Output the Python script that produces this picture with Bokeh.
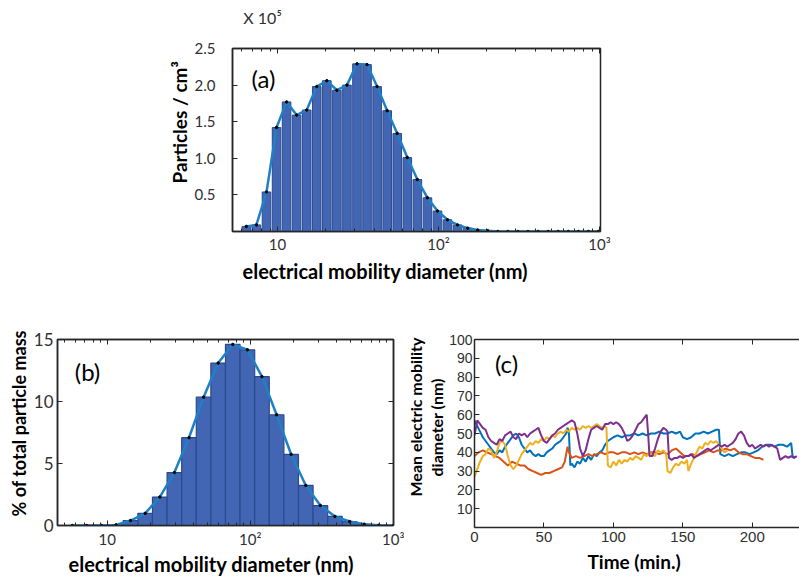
from bokeh.plotting import figure
from bokeh.layouts import column, row
from bokeh.models import (Title, Label, LinearAxis, LogAxis, FixedTicker, Range1d,
                          PrintfTickFormatter, CustomJSTickFormatter)
from bokeh.embed import file_html
from bokeh.resources import INLINE

# ---------------- data ----------------
# (a) number size distribution (x 10^5 particles / cm3)
diam_a = [6.40, 7.39, 8.54, 9.86, 11.38, 13.14, 15.18, 17.52, 20.24, 23.37,
          26.99, 31.16, 35.98, 41.56, 47.99, 55.42, 64.0, 73.9, 85.4, 98.6,
          113.8, 131.4, 151.8, 175.3, 202.4, 233.7, 269.9, 311.6, 359.8, 415.6,
          479.9, 554.2, 640.0, 739.1, 853.5, 985.6]
conc_a = [0.07, 0.09, 0.54, 1.42, 1.77, 1.59, 1.66, 1.98, 2.06, 1.93,
          2.00, 2.29, 2.28, 1.98, 1.65, 1.34, 1.01, 0.71, 0.46, 0.28,
          0.16, 0.09, 0.045, 0.02, 0.01, 0, 0, 0, 0, 0,
          0, 0, 0, 0, 0, 0]

# (b) mass distribution (% of total particle mass)
diam_b = [5.70, 7.20, 9.11, 11.52, 14.57, 18.43, 23.31, 29.48, 37.28, 47.15,
          59.6, 75.4, 95.4, 120.6, 152.6, 192.9, 244.0, 308.6, 390.0, 493.6,
          624.0, 789.0, 998.0]
mass_b = [0, 0, 0, 0.05, 0.40, 0.98, 2.29, 4.27, 7.08, 10.35,
          13.1, 14.6, 14.17, 12.0, 8.93, 5.73, 3.23, 1.61, 0.73, 0.32,
          0.10, 0.02, 0]

# ticks / fixed texts
xt_vals = [10, 100, 1000]
xt_labels = ["10", "10²", "10³"]
mult_pos = 8.07            # diameter above which the multiplier text sits
mult_text = "X 10⁵"
yt_a = [0.5, 1.0, 1.5, 2.0, 2.5]
yt_b = [0, 5, 10, 15]
xt_c = [0, 50, 100, 150, 200]
yt_c = [10, 20, 30, 40, 50, 60, 70, 80, 90, 100]

# (c) mean electric mobility diameter vs time, four runs
t_blue = [0, 2, 4, 6, 8, 10, 12, 14, 16, 18,
          20, 22, 24, 26, 28, 30, 32, 34, 36, 38,
          40, 42, 44, 46, 48, 50, 52, 54, 56, 58,
          60, 62, 64, 66,
          67, 68, 69, 70,
          72, 74, 76, 78, 80, 82, 84, 86, 88, 90, 92, 94, 96, 98, 100,
          103, 106, 109, 112, 115, 118, 121, 124, 127, 130, 133, 136, 139, 142, 145, 148,
          150,
          153, 156, 159, 162, 165, 168, 171, 174,
          176, 177,
          180, 183, 186, 189, 192, 195, 198, 201, 204, 207, 210, 213, 216, 219, 222, 225, 228,
          229, 231]
d_blue = [57, 54, 51, 48, 46, 44, 42, 40, 39, 41,
          40, 43, 45, 47, 49, 50, 48, 44, 42, 40,
          41, 39, 38, 39, 38, 38, 40, 41, 42, 44,
          45, 46, 48, 50,
          53, 50, 33, 34,
          32, 35, 34, 37, 35, 38, 36, 39, 38, 40, 41, 44, 46, 47, 48,
          49, 48, 49, 49, 50, 49, 50, 49, 50, 50, 51, 50, 50, 51, 50, 51,
          48,
          47, 48, 50, 50, 51, 50, 51, 52,
          52, 39,
          38, 39, 38, 39, 40, 40, 39, 40, 41, 43, 44, 44, 43, 44, 44, 43, 45,
          38, 37]

t_orng = [0, 3, 6, 9, 12, 15, 18, 21, 24, 27,
          30, 33, 36, 39, 42, 45, 48, 51, 54, 57,
          60, 63,
          65, 66, 67, 68,
          70,
          73, 76, 79, 82, 85, 88, 91, 94, 97, 100,
          103, 106, 109, 112, 115, 118, 121, 124, 127, 130,
          133, 136, 139, 142, 145, 148, 151, 154, 157, 160,
          163, 166, 169, 172, 175, 178, 181, 184, 187, 190,
          193, 196, 199, 202, 205, 208]
d_orng = [38, 40, 41, 40, 39, 38, 37, 35, 33, 35,
          34, 33, 33, 31, 30, 29, 28, 29, 29, 30,
          31, 32,
          35, 39, 43, 40,
          37,
          38, 37, 38, 39, 38, 39, 40, 39, 40, 40,
          39, 40, 40, 39, 40, 39, 40, 39, 40, 40,
          39, 40, 39, 41, 42, 40, 38, 38, 39, 38,
          39, 40, 41, 40, 41, 41, 42, 41, 42, 40,
          39, 39, 38, 37, 37, 36]

t_yell = [0, 2, 4, 6, 8, 10, 12, 14, 16, 18,
          20, 22, 24, 26, 28, 30, 32, 34, 36, 38,
          40, 42, 44, 46, 48, 50, 52, 54, 56, 58,
          60, 62, 64, 66, 68, 70, 72, 74, 76, 78,
          80, 82, 84, 86, 88, 90, 92, 94,
          95, 96,
          98, 100, 102, 104, 106, 108, 110, 112, 114, 116,
          118, 120, 122, 124, 126, 128, 130, 132, 134, 136, 138,
          139,
          141, 143, 145, 147, 149, 151, 153,
          154,
          156, 158, 160, 162, 164, 166, 168, 170, 172, 174, 176, 178, 180, 182]
d_yell = [27, 31, 35, 38, 39, 42, 41, 37, 40, 45,
          46, 44, 38, 33, 31, 33, 36, 39, 41, 43,
          45, 44, 46, 45, 47, 46, 48, 47, 49, 48,
          50, 51, 50, 52, 51, 53, 52, 53, 52, 54,
          53, 54, 53, 54, 55, 54, 53, 54,
          53, 33,
          32, 35, 33, 36, 34, 36, 35, 37, 36, 38,
          37, 36, 39, 38, 40, 39, 38, 41, 40, 41, 39,
          30,
          29, 32, 34, 33, 35, 34, 36,
          30,
          34, 37, 40, 43, 42, 45, 44, 46, 45, 46, 44, 42, 40, 41]

t_purp = [0, 2, 4, 6, 8, 10, 12, 14, 16, 18,
          20, 22, 24, 26, 28, 30, 32, 34, 36, 38,
          40, 42, 44, 46, 48, 50, 52, 54, 56, 58,
          60, 62, 64, 66, 68, 70, 72, 74, 76, 78,
          80, 82, 84, 86, 88, 90, 92, 94, 96, 98,
          100, 102, 104, 106, 108, 110, 112, 114, 116, 118,
          120, 122, 124, 125, 126, 128, 130, 132, 134, 136,
          138, 139, 140, 142, 144, 146, 148, 150, 152, 154,
          156, 158, 160, 162, 164, 166, 168, 170, 172, 174,
          176, 178, 180, 182, 184, 186, 188, 190, 192, 194,
          196, 198, 200, 202, 204, 206, 208, 210, 212, 214,
          216, 218, 220, 222, 224, 226, 228, 230, 232]
d_purp = [49, 57, 55, 53, 52, 48, 46, 45, 44, 47,
          46, 49, 50, 51, 48, 47, 50, 49, 50, 48,
          50, 51, 52, 53, 49, 46, 45, 47, 49, 50,
          52, 53, 54, 55, 56, 57, 56, 50, 42, 38,
          41, 47, 52, 53, 54, 53, 52, 55, 55, 56,
          55, 56, 55, 53, 50, 46, 47, 49, 52, 55,
          56, 58, 60, 50, 38, 38, 42, 47, 51, 53,
          52, 51, 37, 36, 37, 37, 38, 37, 38, 38,
          39, 37, 38, 39, 40, 41, 42, 41, 42, 43,
          44, 43, 44, 43, 44, 45, 47, 50, 51, 49,
          45, 43, 44, 42, 43, 44, 43, 44, 43, 44,
          43, 42, 36, 37, 38, 37, 38, 37, 38]

# ---------------- style ----------------
INK = "#262626"
TICK_TXT = "#303030"
BAR_FILL = "#4266B3"
BAR_LINE = "#2B4A8E"
FIT_LINE = "#1F80C6"
C_BLUE, C_ORNG, C_YELL, C_PURP = "#0072BD", "#D95319", "#EDB120", "#7E2F8E"
TXT_FONT = "Lato"
C_TICK_FONT = "Liberation Sans"
EMPTY = "return '';"


def style_axis(ax, font, size, standoff, labels=True, minor=True):
    ax.axis_line_color = INK
    ax.axis_line_width = 1.5
    ax.major_tick_line_color = INK
    ax.major_tick_line_width = 1
    ax.major_tick_in = 5
    ax.major_tick_out = 0
    if minor:
        ax.minor_tick_line_color = INK
        ax.minor_tick_in = 3
        ax.minor_tick_out = 0
    else:
        ax.minor_tick_line_color = None
    ax.major_label_text_font = font
    ax.major_label_text_color = TICK_TXT
    ax.major_label_standoff = standoff
    if labels:
        ax.major_label_text_font_size = f"{size}px"
    else:
        ax.major_label_text_font_size = "1px"
        ax.formatter = CustomJSTickFormatter(code=EMPTY)


def add_title(p, side, text, size, offset, style="bold", standoff=0):
    p.add_layout(Title(text=text, align="left", vertical_align="middle",
                       offset=offset, standoff=standoff,
                       text_font=TXT_FONT, text_font_size=f"{size}px",
                       text_font_style=style, text_color="black"), side)


def add_panel_tag(p, x, y, text):
    p.add_layout(Label(x=x, y=y, x_units="screen", y_units="screen", text=text,
                       text_font=TXT_FONT, text_font_size="24px", text_align="center",
                       text_baseline="middle", text_color="black"))


def base_fig(**kw):
    p = figure(output_backend="svg", toolbar_location=None, title=None, **kw)
    p.grid.grid_line_color = None
    p.background_fill_color = "white"
    p.border_fill_color = "white"
    p.outline_line_color = INK
    p.outline_line_width = 1.5
    return p


log_minor = [m * 10 ** e for e in range(0, 3) for m in range(2, 10)]
label_map = dict(zip(xt_vals, xt_labels))

# ---------------- panel (a) ----------------
pa = base_fig(frame_width=368, frame_height=183,
              min_border_left=232, min_border_right=199,
              min_border_top=48, min_border_bottom=59,
              x_axis_type="log", x_range=Range1d(5.25, 1015), y_range=Range1d(0, 2.5))
half_a = 0.0266
bars_a = [(d, v) for d, v in zip(diam_a, conc_a) if v > 0]
pa.quad(left=[d / 10 ** half_a for d, _ in bars_a], right=[d * 10 ** half_a for d, _ in bars_a],
        bottom=0, top=[v for _, v in bars_a], fill_color=BAR_FILL, line_color=BAR_LINE, line_width=1)
pa.line(diam_a, conc_a, line_color=FIT_LINE, line_width=2.5)
pa.scatter(diam_a, conc_a, size=2.5, color="black")

xa = pa.xaxis[0]
xa.ticker = FixedTicker(ticks=xt_vals, minor_ticks=log_minor)
xa.major_label_overrides = label_map
style_axis(xa, TXT_FONT, 15, 3)
ya = pa.yaxis[0]
ya.ticker = FixedTicker(ticks=yt_a)
ya.formatter = PrintfTickFormatter(format="%.1f")
style_axis(ya, TXT_FONT, 15, 17, minor=False)
top_a = LogAxis(ticker=FixedTicker(ticks=xt_vals, minor_ticks=log_minor))
style_axis(top_a, TXT_FONT, 1, 0, labels=False)
pa.add_layout(top_a, "above")
# multiplier "X 10^5": the single tick label of an invisible outer top axis
mult_a = LogAxis(ticker=FixedTicker(ticks=[mult_pos]),
                 major_label_overrides={mult_pos: mult_text})
mult_a.axis_line_color = None
mult_a.major_tick_line_color = None
mult_a.minor_tick_line_color = None
mult_a.major_label_text_font = TXT_FONT
mult_a.major_label_text_font_size = "16px"
mult_a.major_label_text_color = TICK_TXT
mult_a.major_label_standoff = 16
pa.add_layout(mult_a, "above")

add_title(pa, "left", "Particles / cm³", 19, 48)
add_title(pa, "below", "electrical mobility diameter (nm)", 20, 10, standoff=4)
add_panel_tag(pa, 31, 153, "(a)")

# ---------------- panel (b) ----------------
pb = base_fig(frame_width=336, frame_height=186,
              min_border_left=57, min_border_right=11,
              min_border_top=46, min_border_bottom=59,
              x_axis_type="log", x_range=Range1d(4.5, 1000), y_range=Range1d(0, 15))
half_b = 0.051
bars_b = [(d, v) for d, v in zip(diam_b, mass_b) if v > 0]
pb.quad(left=[d / 10 ** half_b for d, _ in bars_b], right=[d * 10 ** half_b for d, _ in bars_b],
        bottom=0, top=[v for _, v in bars_b], fill_color=BAR_FILL, line_color=BAR_LINE, line_width=1.2)
pb.line(diam_b, mass_b, line_color=FIT_LINE, line_width=2.5)
pb.scatter(diam_b, mass_b, size=2.5, color="black")

xb = pb.xaxis[0]
xb.ticker = FixedTicker(ticks=xt_vals, minor_ticks=log_minor)
xb.major_label_overrides = label_map
style_axis(xb, TXT_FONT, 15, 4)
yb = pb.yaxis[0]
yb.ticker = FixedTicker(ticks=yt_b)
style_axis(yb, TXT_FONT, 17, 4, minor=False)
top_b = LogAxis(ticker=FixedTicker(ticks=xt_vals, minor_ticks=log_minor))
style_axis(top_b, TXT_FONT, 1, 0, labels=False)
pb.add_layout(top_b, "above")
right_b = LinearAxis(ticker=FixedTicker(ticks=yt_b))
style_axis(right_b, TXT_FONT, 1, 0, labels=False, minor=False)
pb.add_layout(right_b, "right")

add_title(pb, "left", "% of total particle mass", 18, 9)
add_title(pb, "below", "electrical mobility diameter (nm)", 20, 11, standoff=0)
add_panel_tag(pb, 30, 154, "(b)")

# ---------------- panel (c) ----------------
pc = base_fig(frame_width=325, frame_height=188,
              min_border_left=70, min_border_right=0,
              min_border_top=49, min_border_bottom=54,
              x_range=Range1d(0, 234), y_range=Range1d(0, 100))
pc.outline_line_color = None
for tt, dd, cc in [(t_blue, d_blue, C_BLUE), (t_orng, d_orng, C_ORNG),
                   (t_yell, d_yell, C_YELL), (t_purp, d_purp, C_PURP)]:
    pc.line(tt, dd, line_color=cc, line_width=2)

xc = pc.xaxis[0]
xc.ticker = FixedTicker(ticks=xt_c)
style_axis(xc, C_TICK_FONT, 15, 4, minor=False)
yc = pc.yaxis[0]
yc.ticker = FixedTicker(ticks=yt_c)
style_axis(yc, C_TICK_FONT, 14, 2, minor=False)
top_c = LinearAxis(ticker=FixedTicker(ticks=xt_c))
style_axis(top_c, C_TICK_FONT, 1, 0, labels=False, minor=False)
pc.add_layout(top_c, "above")

add_title(pc, "left", "diameter (nm)", 16, 51)
add_title(pc, "left", "Mean electric mobility", 16, 31)
add_title(pc, "below", "Time (min.)", 19, 113, standoff=8)
add_panel_tag(pc, 32, 164, "(c)")

layout = column(pa, row(pb, pc, spacing=0), spacing=0)
open("out.html", "w").write(file_html(layout, INLINE))
